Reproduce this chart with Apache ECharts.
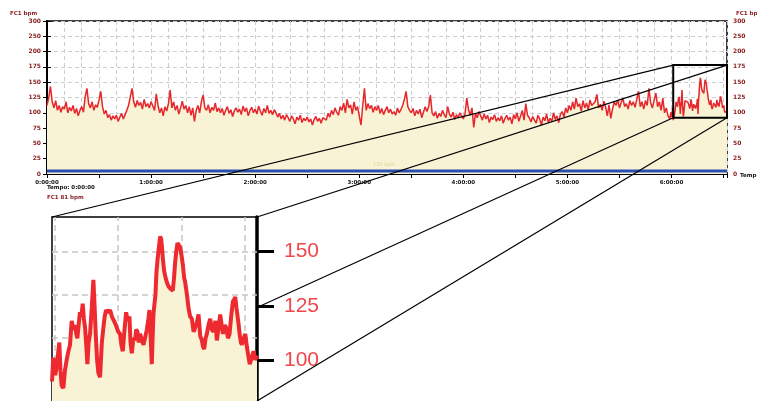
<!DOCTYPE html>
<html>
<head>
<meta charset="utf-8">
<script src="https://cdn.jsdelivr.net/npm/echarts@6/dist/echarts.min.js"></script>
<style>
  html, body { margin: 0; padding: 0; background: #fff; }
  #chart { width: 757px; height: 401px; }
</style>
</head>
<body>
<div id="chart"></div>
<script>
// Heart rate (bpm), one reading per minute starting at 0:00:00
const fhrPerMinute = [
  112, 125, 143, 118, 108, 120, 104, 112, 101, 110,
  106, 118, 100, 109, 103, 112, 99, 107, 95, 104,
  110, 101, 126, 140, 115, 108, 118, 104, 113, 109,
  121, 135, 110, 98, 104, 92, 97, 88, 95, 90,
  96, 86, 93, 99, 90, 97, 104, 112, 126, 140,
  118, 109, 120, 112, 117, 106, 122, 110, 115, 108,
  118, 111, 104, 131, 112, 100, 108, 95, 110, 103,
  115, 137, 108, 118, 104, 112, 98, 108, 119, 106,
  112, 100, 110, 96, 108, 86, 104, 112, 100, 118,
  129, 108, 104, 113, 100, 109, 104, 116, 102, 108,
  100, 107, 96, 104, 110, 99, 105, 94, 103, 108,
  101, 106, 97, 111, 102, 108, 95, 104, 109, 100,
  106, 98, 111, 103, 96, 107, 100, 112, 99, 104,
  97, 105, 100, 93, 99, 90, 96, 88, 97, 92,
  86, 95, 90, 82, 93, 88, 96, 84, 91, 87,
  93, 85, 90, 80, 89, 94, 86, 91, 83, 92,
  95, 88, 99, 93, 104, 97, 108, 101, 96, 110,
  104, 116, 100, 122, 108, 113, 98, 118, 104, 110,
  95, 80, 112, 140, 104, 115, 107, 112, 101, 110,
  104, 112, 99, 107, 97, 104, 110, 100, 106, 98,
  102, 96, 108, 100, 105, 112, 122, 135, 110, 104,
  100, 107, 95, 104, 98, 106, 92, 101, 110, 102,
  110, 129, 100, 95, 102, 91, 99, 94, 104, 97,
  92, 110, 98, 93, 101, 89, 97, 92, 100, 95,
  90, 99, 124, 105, 96, 108, 76, 99, 92, 102,
  95, 88, 98, 90, 96, 84, 93, 89, 97, 86,
  92, 87, 95, 83, 91, 96, 88, 93, 82, 97,
  90, 100, 86, 95, 104, 88, 115, 96, 92, 85,
  94, 88, 83, 96, 90, 80, 93, 87, 98, 84,
  91, 86, 100, 89, 95, 84, 98, 102, 93, 108,
  100, 112, 104, 118, 106, 124, 110, 115, 103, 120,
  108, 116, 105, 121, 112, 109, 118, 130, 108, 114,
  104, 119, 110, 95, 113, 91, 106, 118, 112, 121,
  108, 117, 124, 110, 115, 106, 120, 112, 118, 109,
  112, 135, 110, 118, 106, 120, 112, 140, 116, 108,
  121, 132, 110, 118, 104, 124, 100, 108, 95, 90
];

// Last half hour at finer resolution: time (minutes) and heart rate (bpm)
const detailMinutes = [
  359.5, 359.7, 360.0, 360.24, 360.5, 360.66, 360.85, 361.03, 361.3, 361.55,
  361.83, 362.1, 362.36, 362.62, 362.9, 363.15, 363.35, 363.52, 363.75, 363.94,
  364.15, 364.37, 364.55, 364.74, 364.95, 365.11, 365.3, 365.53, 365.8, 366.06,
  366.25, 366.43, 366.65, 366.85, 367.12, 367.4, 367.65, 367.85, 368.07, 368.4,
  368.71, 369.0, 369.24, 369.5, 369.76, 370.0, 370.29, 370.5, 370.72, 371.0,
  371.25, 371.5, 371.78, 371.95, 372.15, 372.4, 372.67, 372.85, 373.05, 373.25,
  373.47, 373.75, 374.0, 374.25, 374.53, 374.75, 374.95, 375.15, 375.32, 375.45,
  375.58, 375.75, 375.9, 376.05, 376.22, 376.45, 376.64, 376.8, 376.91, 377.1,
  377.28, 377.5, 377.7, 377.95, 378.23, 378.45, 378.65, 378.85, 379.02, 379.2,
  379.39, 379.6, 379.82, 380.05, 380.24, 380.45, 380.61, 380.9, 381.14, 381.4,
  381.67, 381.95, 382.2, 382.45, 382.73, 383.0, 383.26, 383.45, 383.63, 383.85,
  384.05, 384.3, 384.58, 384.85, 385.11, 385.4, 385.64, 385.9, 386.17, 386.4,
  386.6, 386.85, 387.12, 387.4, 387.65, 387.9, 388.18, 388.4, 388.55, 388.75,
  388.92, 389.1, 389.24, 389.45, 389.61, 389.9, 390.14, 390.4, 390.67, 390.85,
  391.04, 391.25, 391.46, 391.7, 392.0
];
const detailBpm = [
  90, 101, 93, 96.5, 104, 108, 95, 88, 87, 95,
  100, 104, 107, 118, 114, 116, 112, 110, 117, 122,
  120, 126, 119, 115, 106, 98, 108, 112, 124, 137,
  125, 112, 100, 94, 92, 108, 115, 120, 123, 122,
  123, 120, 120, 117, 115, 113, 112, 107, 104, 114,
  122, 118, 120, 108, 103, 110, 109, 114, 113, 108,
  112, 109, 107, 110, 114, 118, 123, 110, 98, 110,
  121, 126, 130, 140, 146, 152, 157, 156, 153, 146,
  141, 138, 136, 134, 133, 133, 132, 138, 145, 150,
  154, 153, 152, 148, 144, 138, 136, 130, 124, 120,
  119, 113, 113, 117, 121, 111, 109, 106, 105, 110,
  112, 116, 119, 114, 113, 118, 109, 115, 121, 116,
  112, 116, 115, 110, 112, 120, 127, 128, 129, 124,
  124, 116, 112, 108, 107, 110, 112, 106, 101, 98,
  98, 102, 104, 100, 102
];

// Second channel, flat along the bottom
const tocoMinutes = [0, 392];
const tocoLevel = [5, 5];

// Heart-rate scale labels (compressed above 200)
const yTickLabels = ['0', '25', '50', '75', '100', '125', '150', '175', '200', '250', '300'];

// Magnified window (minutes / bpm) and the inset's own ranges
const zoomWindow = { start: 361, end: 392, low: 92, high: 178 };
const insetRange = { start: 359.5, end: 392, low: 81, high: 166 };
const insetTickBpm = [100, 125, 150];
const insetGridBpm = [90, 110, 130, 150];
const insetGridMinutes = [360, 370, 380, 390];

const TRACE_RED = '#e5262c';
const FILL = '#f7f3d4';
const AXIS_RED = '#8a1b1b';
const GRID_GRAY = '#cdcdcd';

const fullTrace = fhrPerMinute.map((v, i) => [i, v])
  .concat(detailMinutes.map((m, i) => [m, detailBpm[i]]));
const insetTrace = detailMinutes.map((m, i) => [m, detailBpm[i]]);
const tocoTrace = tocoMinutes.map((m, i) => [m, tocoLevel[i]]);

const smallLabel = { fontSize: 6, fontWeight: 'bold', fontFamily: 'DejaVu Sans' };

const bpmAxis = (position, withGrid) => ({
  type: 'value', gridIndex: 0, position,
  min: 0, max: 250, interval: 25,
  axisLine: { show: true, lineStyle: { color: '#000', width: 2 } },
  axisTick: { show: true, length: 4, lineStyle: { color: '#000', width: 1 } },
  axisLabel: Object.assign({ color: AXIS_RED, margin: 6,
    formatter: v => yTickLabels[Math.round(v / 25)] }, smallLabel),
  splitLine: { show: withGrid, lineStyle: { color: GRID_GRAY, type: [4, 3], width: 1 } }
});

const chart = echarts.init(document.getElementById('chart'), null, { renderer: 'canvas' });

chart.setOption({
  animation: false,
  backgroundColor: '#fff',
  grid: [
    { left: 47, right: 30, top: 21, bottom: 227, show: true,
      backgroundColor: '#fff', borderColor: '#000', borderWidth: 1.5 },
    { left: 52, top: 217, width: 205, height: 185, show: true,
      backgroundColor: '#fff', borderColor: '#000', borderWidth: 1.5 }
  ],
  xAxis: [
    { type: 'value', gridIndex: 0, position: 'bottom', min: 0, max: 392, interval: 30,
      axisLine: { onZero: false, lineStyle: { color: '#000', width: 2 } },
      axisTick: { show: true, length: 4, lineStyle: { color: '#000', width: 1 } },
      axisLabel: { color: '#111', margin: 6, fontSize: 5.5, fontWeight: 'bold',
        fontFamily: 'DejaVu Sans',
        formatter: v => (v % 60 === 0 ? (v / 60) + ':00:00' : '') },
      splitLine: { show: false } },
    { type: 'value', gridIndex: 0, position: 'top', min: 0, max: 392, interval: 10,
      axisLine: { show: false }, axisTick: { show: false }, axisLabel: { show: false },
      splitLine: { show: true, lineStyle: { color: GRID_GRAY, type: [4, 3], width: 1 } } },
    { type: 'value', gridIndex: 1, min: insetRange.start, max: insetRange.end,
      axisLine: { show: false }, axisTick: { show: false }, axisLabel: { show: false },
      splitLine: { show: false } }
  ],
  yAxis: [
    bpmAxis('left', true),
    bpmAxis('right', false),
    { type: 'value', gridIndex: 1, position: 'right',
      min: insetRange.low, max: insetRange.high,
      axisLine: { show: true, lineStyle: { color: '#000', width: 3.5 } },
      axisTick: { show: true, length: 17, customValues: insetTickBpm,
        lineStyle: { color: '#000', width: 3 } },
      axisLabel: { customValues: insetTickBpm, color: '#f0474b', fontSize: 21,
        fontFamily: 'Liberation Sans', margin: 27 },
      splitLine: { show: false } }
  ],
  series: [
    { name: 'FC1', type: 'line', xAxisIndex: 0, yAxisIndex: 0, data: fullTrace,
      showSymbol: false, silent: true, sampling: 'none',
      lineStyle: { color: TRACE_RED, width: 1.5 },
      areaStyle: { color: FILL, opacity: 1 } },
    { name: 'Temp', type: 'line', xAxisIndex: 0, yAxisIndex: 0, data: tocoTrace,
      showSymbol: false, silent: true, z: 3,
      lineStyle: { color: '#2b4fb0', width: 3 } },
    { name: 'FC1 detail', type: 'line', xAxisIndex: 2, yAxisIndex: 2, data: insetTrace,
      showSymbol: false, silent: true, clip: true,
      lineStyle: { color: '#ee2a30', width: 4 },
      areaStyle: { color: FILL, opacity: 1, origin: 'start' },
      markLine: {
        silent: true, symbol: ['none', 'none'], z: 1, animation: false,
        label: { show: false },
        lineStyle: { color: '#c6c6c6', type: [6, 4], width: 1.5 },
        data: insetGridMinutes.map(m => ({ xAxis: m }))
          .concat(insetGridBpm.map(b => ({ yAxis: b })))
      } }
  ]
});

// Callout: frame on the overview plus lines leading to the enlarged view
function drawCallout() {
  const main = { xAxisIndex: 0, yAxisIndex: 0 };
  const inset = { xAxisIndex: 2, yAxisIndex: 2 };
  const bTL = chart.convertToPixel(main, [zoomWindow.start, zoomWindow.high]);
  const bBR = chart.convertToPixel(main, [zoomWindow.end, zoomWindow.low]);
  const bTR = [bBR[0], bTL[1]];
  const bBL = [bTL[0], bBR[1]];
  const iTL = chart.convertToPixel(inset, [insetRange.start, insetRange.high]);
  const iBR = chart.convertToPixel(inset, [insetRange.end, insetRange.low]);
  const iTR = [iBR[0], iTL[1]];
  const iBL = [iTL[0], iBR[1]];
  // the lower-left lead disappears behind the enlarged panel
  const t = (bBL[0] - iBR[0]) / (bBL[0] - iBL[0]);
  const cEnd = [iBR[0], bBL[1] + (iBL[1] - bBL[1]) * t];

  const lead = (a, b) => ({
    type: 'line', z: 100, silent: true,
    shape: { x1: a[0], y1: a[1], x2: b[0], y2: b[1] },
    style: { stroke: '#000', lineWidth: 1.2 }
  });
  const label = (x, y, text, fill, size, weight) => ({
    type: 'text', x, y, z: 100, silent: true,
    style: { text, fill, fontSize: size, fontWeight: weight || 'bold',
      fontFamily: 'DejaVu Sans', textVerticalAlign: 'middle' }
  });

  chart.setOption({
    graphic: [
      { type: 'rect', z: 100, silent: true,
        shape: { x: bTL[0], y: bTL[1], width: bBR[0] - bTL[0], height: bBR[1] - bTL[1] },
        style: { fill: 'none', stroke: '#000', lineWidth: 2 } },
      lead(bTL, iTL),
      lead(bTR, iTR),
      lead(bBL, cEnd),
      lead(bBR, iBR),
      label(10, 14, 'FC1 bpm', AXIS_RED, 5.5),
      label(736, 14, 'FC1 bpm', AXIS_RED, 5.5),
      label(740, 176, 'Temp', '#111', 5.5),
      label(47, 188, 'Tempo: 0:00:00', '#111', 5.5),
      label(47, 198, 'FC1 81 bpm', AXIS_RED, 5.5),
      label(373, 165, '120 bpm', '#ddd39a', 5, 'normal')
    ]
  });
}
drawCallout();
</script>
</body>
</html>
